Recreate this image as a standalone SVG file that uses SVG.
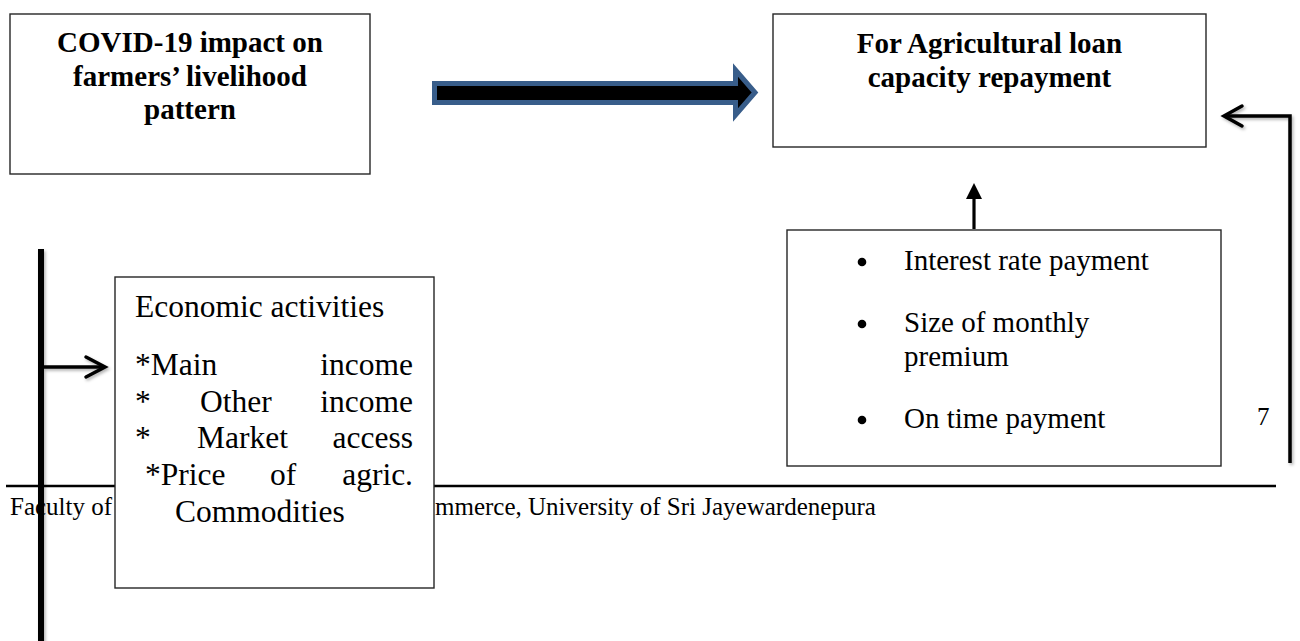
<svg xmlns="http://www.w3.org/2000/svg" width="1300" height="641" viewBox="0 0 1300 641">
  <style>
    .box { fill: #ffffff; stroke: #262626; stroke-width: 1.4; }
    .title { font-family: "Liberation Serif", "Times New Roman", serif; font-weight: bold; font-size: 29px; fill: #000; text-anchor: middle; }
    .body { font-family: "Liberation Serif", "Times New Roman", serif; font-size: 29px; fill: #000; }
    .econ { font-family: "Liberation Serif", "Times New Roman", serif; font-size: 31.5px; fill: #000; }
    .foot { font-family: "Liberation Serif", "Times New Roman", serif; font-size: 25px; fill: #000; }
    .wire { fill: none; stroke: #000; stroke-width: 3.5; stroke-linejoin: miter; }
  </style>
  <defs>
    <filter id="shade" x="-20%" y="-20%" width="140%" height="140%">
      <feDropShadow dx="1.5" dy="2" stdDeviation="1.5" flood-color="#000" flood-opacity="0.3"/>
    </filter>
  </defs>

  <rect width="1300" height="641" fill="#ffffff"/>

  <!-- page footer: rule, running text (partly behind the box) and page number -->
  <g id="footer">
    <line x1="6" y1="486" x2="1276" y2="486" stroke="#000" stroke-width="2.5"/>
    <text class="foot" x="10" y="515">Faculty of</text>
    <text class="foot" x="435" y="515">mmerce, University of Sri Jayewardenepura</text>
    <text class="foot" x="1257" y="425" font-size="26">7</text>
  </g>

  <g id="covid-impact">
    <rect class="box" x="10" y="14" width="360" height="160"/>
    <text class="title" x="190" y="52">COVID-19 impact on</text>
    <text class="title" x="190" y="86">farmers’ livelihood</text>
    <text class="title" x="190" y="119">pattern</text>
  </g>

  <g id="loan-repayment">
    <rect class="box" x="773" y="14" width="433" height="133"/>
    <text class="title" x="989.5" y="53">For Agricultural loan</text>
    <text class="title" x="989.5" y="87">capacity repayment</text>
  </g>

  <g id="economic-activities">
    <rect class="box" x="115" y="277" width="319" height="311"/>
    <text class="econ" x="135" y="317">Economic activities</text>
    <text class="econ" y="375"><tspan x="135">*Main</tspan><tspan x="413" text-anchor="end">income</tspan></text>
    <text class="econ" y="412"><tspan x="135">*</tspan><tspan x="200">Other</tspan><tspan x="413" text-anchor="end">income</tspan></text>
    <text class="econ" y="448"><tspan x="135">*</tspan><tspan x="197">Market</tspan><tspan x="413" text-anchor="end">access</tspan></text>
    <text class="econ" y="485"><tspan x="145">*Price</tspan><tspan x="270">of</tspan><tspan x="413" text-anchor="end">agric.</tspan></text>
    <text class="econ" x="175" y="522">Commodities</text>
  </g>

  <g id="repayment-factors">
    <rect class="box" x="787" y="230" width="434" height="236"/>
    <circle cx="862" cy="262" r="4.3" fill="#000"/>
    <text class="body" x="904" y="270">Interest rate payment</text>
    <circle cx="862" cy="324" r="4.3" fill="#000"/>
    <text class="body" x="904" y="332">Size of monthly</text>
    <text class="body" x="904" y="366">premium</text>
    <circle cx="862" cy="420" r="4.3" fill="#000"/>
    <text class="body" x="904" y="428">On time payment</text>
  </g>

  <g id="connectors">
    <!-- block arrow between the two top boxes -->
    <polygon points="434.5,83.5 735.5,83.5 735.5,70 755,92.5 735.5,115 735.5,102.5 434.5,102.5"
             fill="#000" stroke="#385D8A" stroke-width="5" stroke-linejoin="miter"/>
    <!-- factors up into repayment box -->
    <line x1="974" y1="229" x2="974" y2="197" stroke="#000" stroke-width="3.2"/>
    <polygon points="974,183 966,199 982,199" fill="#000"/>
    <!-- feedback loop on the right -->
    <g filter="url(#shade)">
      <polyline class="wire" points="1290,463 1290,116 1224,116"/>
      <polyline class="wire" points="1242,106 1224,116 1242,126" stroke-linecap="round"/>
    </g>
    <!-- left trunk and branch into economic activities -->
    <g filter="url(#shade)">
      <line x1="41" y1="249" x2="41" y2="641" stroke="#000" stroke-width="6"/>
      <line x1="41" y1="367" x2="104" y2="367" stroke="#000" stroke-width="3.5"/>
      <polyline class="wire" points="86,357 105,367 86,377" stroke-linecap="round"/>
    </g>
  </g>
</svg>
